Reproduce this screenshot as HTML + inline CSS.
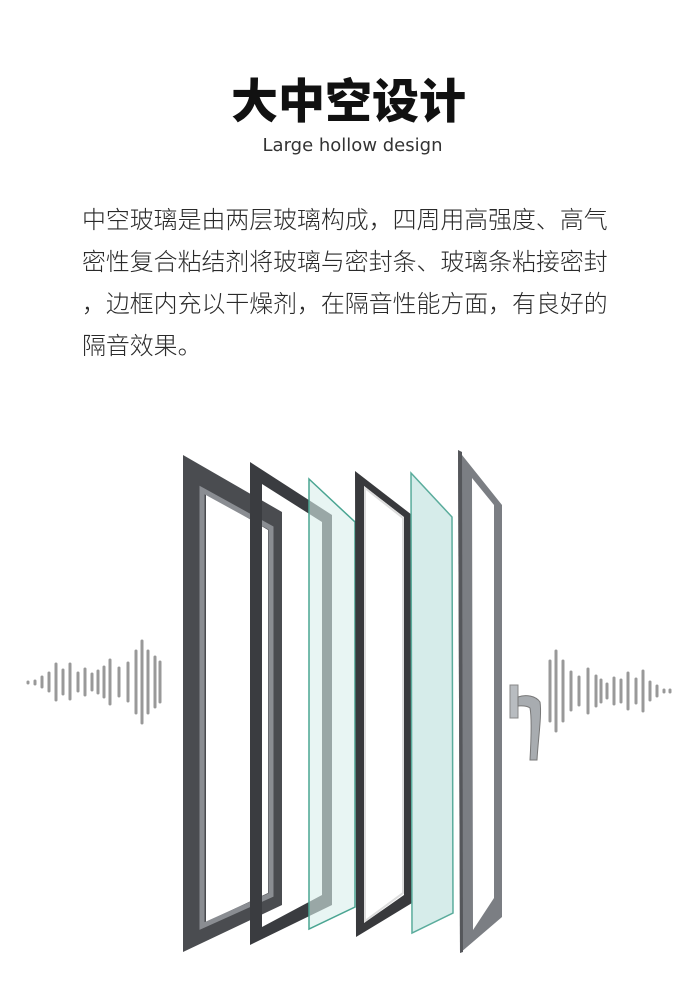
<!DOCTYPE html>
<html><head><meta charset="utf-8"><style>
html,body{margin:0;padding:0;background:#fff;}
body{width:697px;height:1007px;position:relative;overflow:hidden;font-family:"Liberation Sans","Noto Sans CJK SC",sans-serif;}
.t{position:absolute;left:0;width:697px;text-align:center;top:74px;font-size:47px;font-weight:900;color:#111;line-height:56px;padding-left:0px;}
.s{position:absolute;left:4px;width:697px;text-align:center;top:133px;font-size:18px;color:#333;line-height:26px;font-family:"DejaVu Sans","Liberation Sans",sans-serif;}
.p{position:absolute;left:82px;top:200px;width:530px;font-size:23.9px;line-height:42px;color:#2a2a2a;font-weight:300;}
.p div{white-space:nowrap;}
svg{position:absolute;left:0;top:0;}
</style></head><body>
<div class="t">大中空设计</div>
<div class="s">Large hollow design</div>
<div class="p"><div>中空玻璃是由两层玻璃构成，四周用高强度、高气</div><div>密性复合粘结剂将玻璃与密封条、玻璃条粘接密封</div><div>，边框内充以干燥剂，在隔音性能方面，有良好的</div><div>隔音效果。</div></div>
<svg width="697" height="1007" viewBox="0 0 697 1007">
<g stroke="#999" stroke-width="3" stroke-linecap="round">
<line x1="28" y1="682" x2="28" y2="683"/><line x1="35" y1="681" x2="35" y2="684"/>
<line x1="42" y1="677" x2="42" y2="687"/><line x1="49" y1="673" x2="49" y2="691"/>
<line x1="56" y1="664" x2="56" y2="700"/><line x1="63" y1="670" x2="63" y2="694"/>
<line x1="70" y1="664" x2="70" y2="699"/><line x1="78" y1="673" x2="78" y2="691"/>
<line x1="85" y1="669" x2="85" y2="695"/><line x1="92" y1="674" x2="92" y2="690"/>
<line x1="98" y1="671" x2="98" y2="693"/><line x1="104" y1="667" x2="104" y2="697"/>
<line x1="110" y1="660" x2="110" y2="704"/><line x1="119" y1="668" x2="119" y2="696"/>
<line x1="128" y1="663" x2="128" y2="701"/><line x1="136" y1="651" x2="136" y2="713"/>
<line x1="142" y1="641" x2="142" y2="723"/><line x1="148" y1="651" x2="148" y2="713"/>
<line x1="155" y1="657" x2="155" y2="707"/><line x1="160" y1="662" x2="160" y2="702"/>
<line x1="550" y1="661" x2="550" y2="721"/><line x1="556" y1="651" x2="556" y2="731"/>
<line x1="563" y1="661" x2="563" y2="721"/><line x1="571" y1="672" x2="571" y2="710"/>
<line x1="579" y1="677" x2="579" y2="705"/><line x1="588" y1="669" x2="588" y2="713"/>
<line x1="596" y1="676" x2="596" y2="706"/><line x1="601" y1="680" x2="601" y2="702"/>
<line x1="607" y1="684" x2="607" y2="698"/><line x1="614" y1="678" x2="614" y2="704"/>
<line x1="621" y1="680" x2="621" y2="702"/><line x1="628" y1="673" x2="628" y2="709"/>
<line x1="636" y1="679" x2="636" y2="703"/><line x1="643" y1="671" x2="643" y2="711"/>
<line x1="650" y1="682" x2="650" y2="700"/><line x1="657" y1="686" x2="657" y2="696"/>
<line x1="664" y1="690" x2="664" y2="692"/><line x1="670" y1="690" x2="670" y2="692"/>
</g>
<!-- frame 1 -->
<path fill-rule="evenodd" fill="#4a4c50" d="M183,455 L282,512 L282,905 L183,952 Z M206,493 L268,530 L268,893 L206,922 Z"/>
<path fill="none" stroke="#8a8d92" stroke-width="5" d="M202,490 L271,528 L271,895 L202,926 Z"/>
<!-- frame 2 -->
<path fill-rule="evenodd" fill="#3a3c40" d="M250,462 L332,515 L332,905 L250,945 Z M262,484 L322,522 L322,895 L262,927 Z"/>
<!-- glass 1 -->
<path fill="#d8eeeb" fill-opacity="0.6" stroke="#4aa592" stroke-width="1.5" d="M309,479 L355,522 L355,907 L309,929 Z"/>
<!-- frame 3 -->
<path fill-rule="evenodd" fill="#38393c" d="M355,471 L412,515 L412,903 L356,937 Z M364,486 L404,517 L404,895 L364,923 Z"/>
<path fill="none" stroke="#ddd" stroke-width="2" d="M365,488 L403,518 L403,893 L365,921 Z"/>
<!-- glass 2 -->
<path fill="#d6ecea" stroke="#5aac9c" stroke-width="1.5" d="M411,473 L452,517 L453,913 L412,933 Z"/>
<!-- frame 4 sash -->
<path fill-rule="evenodd" fill="#7b7e83" d="M458,450 L502,505 L502,917 L460,953 Z M472,478 L494,505 L494,898 L473,930 Z"/>
<path fill="#55575b" d="M458,450 L462,452 L463,952 L460,953 Z"/>
<!-- handle -->
<rect x="510" y="685" width="8" height="33" fill="#b8bcc0" stroke="#888" stroke-width="1"/>
<path d="M518,697 C526,694 536,696 540,702 C542,715 538,740 537,760 L530,760 C531,742 532,718 530,708 C526,705 521,706 518,706 Z" fill="#a8acb0" stroke="#777" stroke-width="1"/>
</svg>
</body></html>
